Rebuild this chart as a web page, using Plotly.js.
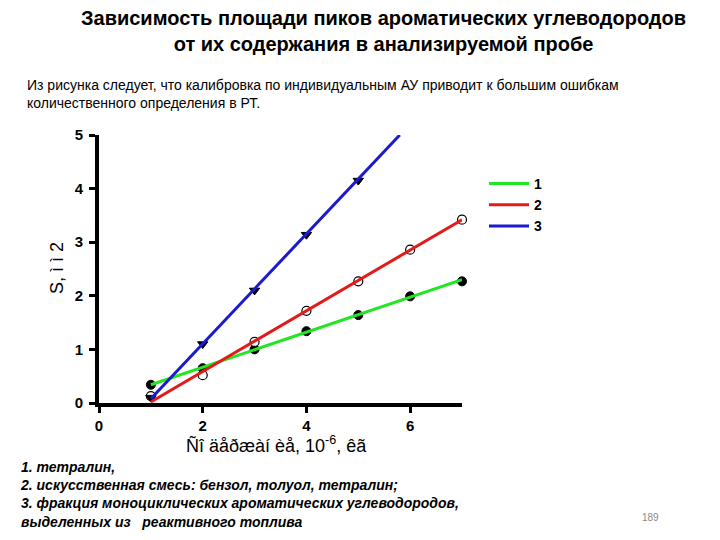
<!DOCTYPE html>
<html>
<head>
<meta charset="utf-8">
<script src="https://cdn.plot.ly/plotly-3.0.1.min.js"></script>
<style>html,body{margin:0;padding:0;background:#fff;}#chart{width:720px;height:540px;}</style>
</head>
<body>
<div id="chart"></div>
<script>
// measured points
const xPts = [1, 2, 3, 4, 5, 6, 7];
const s1Pts = [0.34, 0.65, 1.0, 1.34, 1.64, 1.99, 2.27];
const s2Pts = [0.13, 0.52, 1.14, 1.72, 2.27, 2.86, 3.42];
const xPts3 = [1, 2, 3, 4, 5];
const s3Pts = [0.10, 1.10, 2.10, 3.14, 4.15];
// calibration line end points
const fit1X = [1, 7], fit1Y = [0.34, 2.30];
const fit2X = [1, 7], fit2Y = [0.02, 3.42];
const fit3X = [1, 5.8], fit3Y = [0.08, 5.0];
const seriesNames = ['1', '2', '3'];
const xTicks = [0, 2, 4, 6];
const yTicks = [0, 1, 2, 3, 4, 5];

const L = 99, R = 462, T = 135, B = 403;
const xp = px => (px - L) / (R - L);
const yp = py => (B - py) / (B - T);
const F = 'Liberation Sans, Arial, sans-serif';

const traces = [
  {x: xPts, y: s1Pts, mode: 'markers', showlegend: false, cliponaxis: false,
   marker: {symbol: 'circle', size: 9, color: '#000', line: {color: '#000', width: 1}}},
  {x: xPts, y: s2Pts, mode: 'markers', showlegend: false, cliponaxis: false,
   marker: {symbol: 'circle', size: 9, color: '#fff', line: {color: '#000', width: 1.2}}},
  {x: xPts3, y: s3Pts, mode: 'markers', showlegend: false, cliponaxis: false,
   marker: {symbol: 'triangle-down', size: 9, color: '#000', line: {color: '#000', width: 1}}},
  {x: fit1X, y: fit1Y, mode: 'lines', name: seriesNames[0], cliponaxis: false, line: {color: '#22e622', width: 3}},
  {x: fit2X, y: fit2Y, mode: 'lines', name: seriesNames[1], cliponaxis: false, line: {color: '#e41a1a', width: 3}},
  {x: fit3X, y: fit3Y, mode: 'lines', name: seriesNames[2], cliponaxis: false, line: {color: '#1a1ad0', width: 3}}
];

const ann = (text, px, py, opts) => Object.assign({
  text: text, xref: 'paper', yref: 'paper', x: xp(px), y: yp(py),
  showarrow: false, xanchor: 'left', yanchor: 'middle',
  font: {family: F, size: 13, color: '#000'}
}, opts || {});

const tf = {family: F, size: 15, color: '#000', weight: 'bold'};

const layout = {
  width: 720, height: 540,
  paper_bgcolor: '#fff', plot_bgcolor: '#fff',
  margin: {l: L, r: 720 - R, t: T, b: 540 - B},
  font: {family: F, color: '#000'},
  xaxis: {range: [0, 7], tickvals: xTicks, ticks: 'outside', ticklen: 6, tickwidth: 3, tickcolor: '#000',
          showline: true, linewidth: 4, linecolor: '#000', showgrid: false, zeroline: false,
          tickfont: tf, fixedrange: true},
  yaxis: {range: [0, 5], tickvals: yTicks, ticks: 'outside', ticklen: 6, tickwidth: 3, tickcolor: '#000',
          showline: true, linewidth: 4, linecolor: '#000', showgrid: false, zeroline: false,
          ticklabelstandoff: 3,
          tickfont: tf, fixedrange: true},
  legend: {x: xp(484), y: yp(168), xanchor: 'left', yanchor: 'top', bgcolor: 'rgba(0,0,0,0)',
           font: {family: F, size: 14, color: '#000', weight: 'bold'}, tracegroupgap: 0, itemwidth: 40},
  showlegend: true,
  annotations: [
    ann('<b>Зависимость площади пиков ароматических углеводородов<br>от их содержания в анализируемой пробе</b>', 383, 31,
        {xanchor: 'center', align: 'center', font: {family: F, size: 20, color: '#000'}}),
    ann('Из рисунка следует, что калибровка по индивидуальным АУ приводит к большим ошибкам<br>количественного определения в РТ.', 25, 94,
        {align: 'left', font: {family: F, size: 14, color: '#000'}}),
    ann('Ñî äåðæàí èå, 10<sup>-6</sup>, êã', 276, 444, {xanchor: 'center', font: {family: F, size: 18, color: '#000'}}),
    ann('S, ì ì 2', 57, 268, {xanchor: 'center', textangle: -90, font: {family: F, size: 18, color: '#000'}}),
    ann('<b><i>1. тетралин,<br>2. искусственная смесь: бензол, толуол, тетралин;<br>3. фракция моноциклических ароматических углеводородов,<br>выделенных из   реактивного топлива</i></b>', 18, 495,
        {align: 'left', font: {family: F, size: 14, color: '#000'}}),
    ann('189', 650, 517, {xanchor: 'center', font: {family: F, size: 10, color: '#888'}})
  ]
};

Plotly.newPlot('chart', traces, layout, {displayModeBar: false, staticPlot: true});
</script>
</body>
</html>
